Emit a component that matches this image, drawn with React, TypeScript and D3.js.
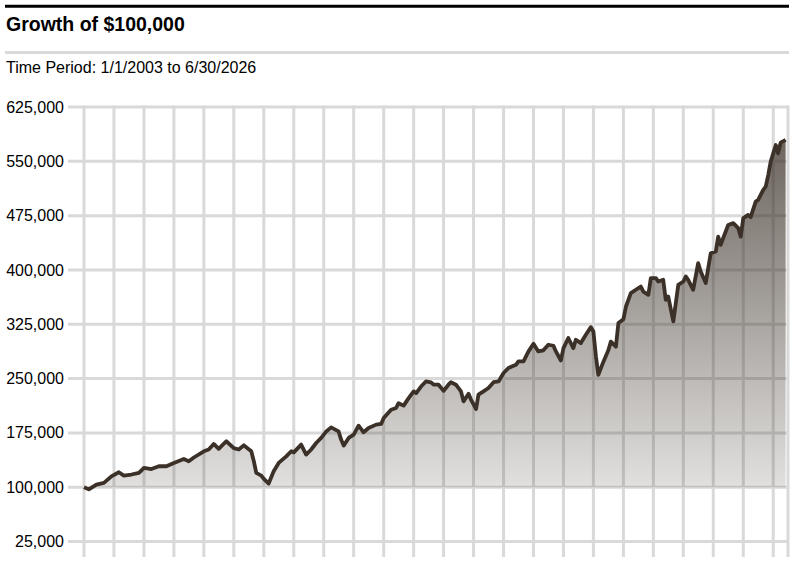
import React from 'react';
import * as d3 from 'd3';

// Growth of $100,000, month-start dates and portfolio value
const months = [
  '2003-01', '2003-03', '2003-06', '2003-09', '2003-12', '2004-03', '2004-05', '2004-08', '2004-11',
  '2005-01', '2005-04', '2005-07', '2005-10', '2006-01', '2006-05', '2006-07', '2006-09',
  '2007-01', '2007-03', '2007-05', '2007-07', '2007-10', '2008-01', '2008-03', '2008-05', '2008-08',
  '2008-09', '2008-10', '2008-12', '2009-01', '2009-03', '2009-05', '2009-07', '2009-10', '2009-12',
  '2010-01', '2010-04', '2010-06', '2010-08', '2010-10', '2010-12', '2011-02', '2011-04', '2011-07',
  '2011-08', '2011-09', '2011-11', '2012-01', '2012-03', '2012-05', '2012-07', '2012-10', '2012-12',
  '2013-01', '2013-04', '2013-06', '2013-07', '2013-09', '2013-11', '2014-01', '2014-02', '2014-04',
  '2014-06', '2014-08', '2014-09', '2014-11', '2015-01', '2015-03', '2015-04', '2015-06', '2015-08',
  '2015-09', '2015-11', '2015-12', '2016-02', '2016-03', '2016-05', '2016-07', '2016-09', '2016-11',
  '2017-01', '2017-03', '2017-06', '2017-07', '2017-09', '2017-11', '2018-01', '2018-03', '2018-05',
  '2018-07', '2018-09', '2018-10', '2018-12', '2019-01', '2019-03', '2019-05', '2019-06', '2019-08',
  '2019-10', '2019-12', '2020-01', '2020-02', '2020-03', '2020-05', '2020-07', '2020-08', '2020-10',
  '2020-11', '2021-01', '2021-02', '2021-04', '2021-06', '2021-08', '2021-09', '2021-11', '2021-12',
  '2022-02', '2022-03', '2022-05', '2022-06', '2022-07', '2022-09', '2022-11', '2023-01', '2023-02',
  '2023-03', '2023-05', '2023-07', '2023-08', '2023-10', '2023-12', '2024-02', '2024-03', '2024-04',
  '2024-05', '2024-07', '2024-09', '2024-11', '2024-12', '2025-01', '2025-03', '2025-04', '2025-06',
  '2025-07', '2025-09', '2025-10', '2025-11', '2025-12', '2026-02', '2026-03', '2026-04', '2026-06',
];

const values = [
  100000, 97000, 103600, 106000, 115000, 120600, 116000, 117500, 119800,
  126600, 125000, 128900, 128900, 133500, 139000, 135800, 141000,
  149600, 152000, 159700, 153000, 163400, 154000, 152000, 157800, 149600,
  135800, 119800, 116000, 111500, 105000, 122000, 133500, 142600, 149600,
  148000, 158800, 145000, 152000, 161000, 168000, 177000, 182600, 177000,
  165700, 157400, 168000, 172600, 185000, 175800, 181800, 186400, 187400,
  195600, 207000, 209400, 216000, 212600, 223000, 232300, 230000, 239000,
  246000, 244700, 241500, 241500, 233000, 241500, 245000, 241500, 232300,
  218500, 229000, 221000, 208000, 227800, 232300, 237000, 245000, 246000,
  257700, 264600, 269000, 273700, 273700, 287500, 298000, 287500, 289000,
  296700, 295300, 287500, 275000, 292000, 306000, 292000, 303600, 299000,
  310500, 321000, 315000, 280600, 255000, 273000, 289000, 301000, 294000,
  326700, 332000, 349500, 368000, 372600, 377000, 370000, 365700, 388700,
  388700, 384000, 386400, 358800, 363400, 328900, 379500, 384000, 391000,
  386400, 372600, 409400, 397800, 381800, 423000, 425400, 446000, 434600,
  443900, 462000, 464600, 457700, 446000, 471500, 476000, 472900, 494400,
  496700, 510500, 515000, 531000, 549500, 572600, 561000, 575700, 579500,
];

const yTicks = [25000, 100000, 175000, 250000, 325000, 400000, 475000, 550000, 625000];
const startingValue = 100000;
const periodStart = '2003-01-01';
const periodEnd = '2026-06-30';

const W = 796;
const H = 574;
const FONT = "Arial, 'Liberation Sans', sans-serif";
const GRID = '#d9d9d9';
const INK = '#3b3128';

export default function App() {
  const parseMonth = d3.timeParse('%Y-%m');
  const data = months.map((m, i) => ({ date: parseMonth(m) as Date, value: values[i] }));

  const start = d3.isoParse(periodStart) as Date;
  const end = d3.isoParse(periodEnd) as Date;

  const x = d3.scaleTime().domain([start, end]).range([84, 788]);
  const y = d3.scaleLinear().domain([25000, 625000]).range([541.5, 107]);

  const area = d3.area<{ date: Date; value: number }>()
    .x(d => x(d.date))
    .y0(y(startingValue))
    .y1(d => y(d.value));

  const line = d3.line<{ date: Date; value: number }>()
    .x(d => x(d.date))
    .y(d => y(d.value));

  const years = d3.timeYear.range(start, end);
  const fmt = d3.format(',');

  return (
    <svg width={W} height={H} style={{ position: 'absolute', left: 0, top: 0, background: '#fff' }}>
      <defs>
        <linearGradient id="growthFill" gradientUnits="userSpaceOnUse"
          x1={0} x2={0} y1={y(625000)} y2={y(startingValue)}>
          <stop offset="0%" stopColor={INK} stopOpacity={0.8} />
          <stop offset="100%" stopColor={INK} stopOpacity={0.15} />
        </linearGradient>
      </defs>

      {/* header */}
      <line x1={5} x2={789} y1={6.3} y2={6.3} stroke="#000" strokeWidth={3} />
      <text x={6} y={31} fontFamily={FONT} fontSize={19.5} fontWeight="bold" fill="#000">
        Growth of $100,000
      </text>
      <line x1={5} x2={789} y1={52.5} y2={52.5} stroke={GRID} strokeWidth={3} />
      <text x={6} y={73} fontFamily={FONT} fontSize={16} fill="#000">
        Time Period: 1/1/2003 to 6/30/2026
      </text>

      {/* grid */}
      {yTicks.map(t => (
        <g key={t}>
          <line x1={68} x2={789} y1={y(t)} y2={y(t)} stroke={GRID} strokeWidth={3} />
          <text x={64} y={y(t)} dy="0.35em" textAnchor="end" fontFamily={FONT} fontSize={16} fill="#000">
            {fmt(t)}
          </text>
        </g>
      ))}
      {[...years, end].map((d, i) => (
        <line key={i} x1={x(d)} x2={x(d)} y1={y(625000) - 1.5} y2={557} stroke={GRID} strokeWidth={3} />
      ))}

      {/* series */}
      <path d={area(data) as string} fill="url(#growthFill)" />
      <path d={line(data) as string} fill="none" stroke={INK} strokeWidth={3.8} strokeLinejoin="round" />
    </svg>
  );
}
